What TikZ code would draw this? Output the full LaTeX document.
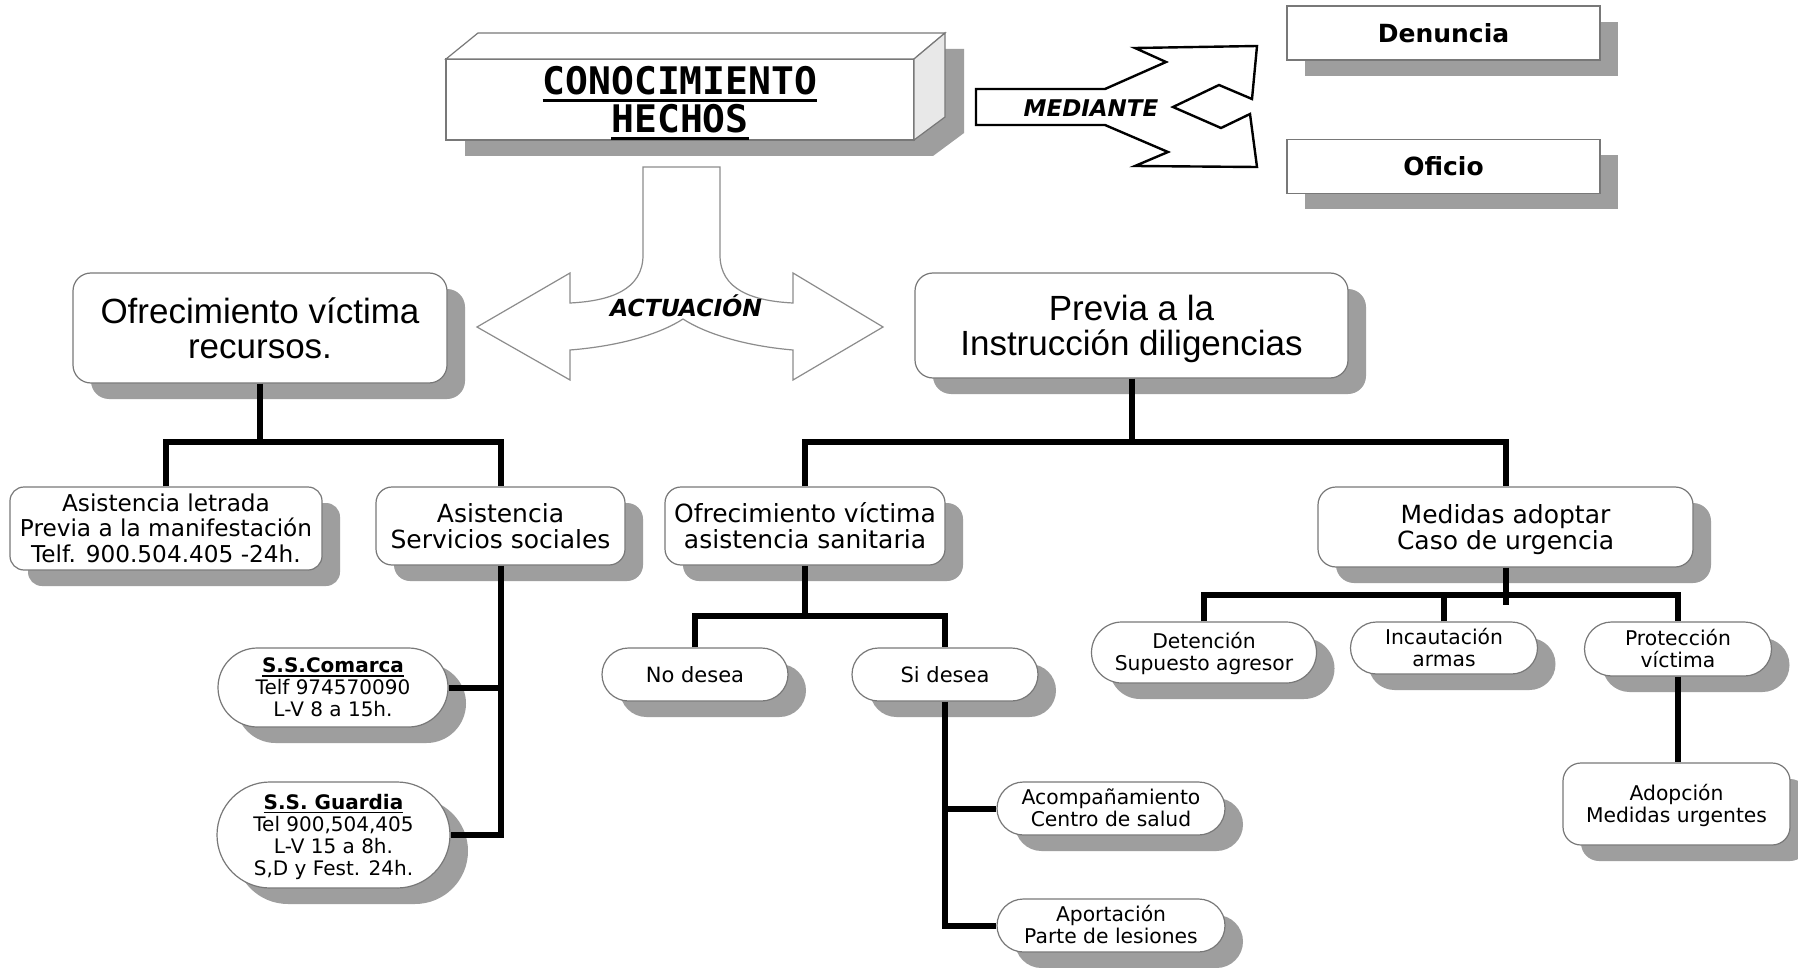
\documentclass[tikz,border=0pt]{standalone}
\usepackage{fontspec}
\usetikzlibrary{shapes.misc,shadows,calc}
\newfontfamily\dvs{DejaVu Sans}
\newfontfamily\dvm{DejaVu Sans Mono}
\newfontfamily\lbs{Liberation Sans}
\newlength\lnp
\newlength\lnd
\newcommand\setfnt[4]{#1\fontsize{#2}{#3}\selectfont\lineskiplimit=-1000pt\setlength\lnp{#3}\setlength\lnd{\dimexpr(#3-#4)/2\relax}}
\newcommand\Ln[1]{\rule[-\lnd]{0pt}{\lnp}\smash{#1}}
\newcommand\myul[1]{\setbox0\hbox{#1}\rlap{\rule[-0.2em]{\wd0}{0.08em}}\box0}
\definecolor{shd}{RGB}{158,158,158}
\definecolor{bord}{RGB}{120,120,120}
\definecolor{side}{RGB}{232,232,232}
\definecolor{arrgray}{RGB}{140,140,140}
\tikzset{
  shdw/.style={drop shadow={shadow xshift=9pt,shadow yshift=-8pt,fill=shd,opacity=1}},
  rbox/.style={shdw,rectangle,draw=bord,line width=0.6pt,fill=white,rounded corners=9pt,inner sep=0pt,align=center},
  pill/.style={shdw,rounded rectangle,draw=bord,line width=0.6pt,fill=white,inner sep=0pt,align=center},
  sqbox/.style={shdw,rectangle,draw=bord,line width=0.6pt,fill=white,inner sep=0pt,align=center},
  conn/.style={line width=3pt,line join=miter},
  bigf/.style={font=\setfnt{\lbs}{17.5pt}{17.5pt}{12.5pt}},
  midf/.style={font=\setfnt{\dvs}{12.5pt}{13pt}{9.1pt}},
  letf/.style={font=\setfnt{\dvs}{11.6pt}{12.75pt}{8.45pt}},
  smf/.style={font=\setfnt{\dvs}{10.15pt}{11pt}{7.4pt}},
  ssf/.style={font=\setfnt{\dvs}{10pt}{11pt}{7.3pt}},
  desf/.style={font=\setfnt{\dvs}{10.5pt}{11pt}{7.65pt}},
  boldf/.style={font=\setfnt{\dvs\bfseries}{12.5pt}{13pt}{9.1pt}},
}
\begin{document}
\begin{tikzpicture}[x=0.5pt,y=-0.5pt]
\useasboundingbox (0,0) rectangle (1798,968);
\fill[white] (0,0) rectangle (1798,968);

% 3D box
\fill[shd] (465,156) -- (465,75) -- (497,49) -- (964,49) -- (964,133) -- (933,156) -- cycle;
\draw[bord,line width=0.6pt,fill=white] (446,59) rectangle (914,140);
\draw[bord,line width=0.6pt,fill=white] (446,59) -- (478,33) -- (945,33) -- (914,59) -- cycle;
\draw[bord,line width=0.6pt,fill=side] (914,59) -- (945,33) -- (945,117) -- (914,140) -- cycle;
\node[font=\setfnt{\dvm\bfseries}{19pt}{19pt}{13.6pt},align=center,inner sep=0pt] (con) at (680,99.5)
  {\Ln{\myul{CONOCIMIENTO}}\\\Ln{\myul{HECHOS}}};

% MEDIANTE arrow
\draw[line width=1.2pt,fill=white,line join=miter] (976,89) -- (1105,89) -- (1166,62) -- (1135,48) -- (1257,46) -- (1252,99) -- (1219,85) -- (1173,107) -- (1221,128) -- (1250,114) -- (1257,167) -- (1135,166) -- (1168,152) -- (1105,125) -- (976,125) -- cycle;
\node[font=\setfnt{\dvs\bfseries\itshape}{11.5pt}{12pt}{8.4pt},inner sep=0pt] (med) at (1091,108) {\Ln{MEDIANTE}};

% ACTUACION arrow
\draw[arrgray,line width=0.6pt,fill=white] (643,167) -- (643,255) .. controls (643,290) and (610,301) .. (570,303)
  -- (570,273) -- (477,327) -- (570,380) -- (570,350)
  .. controls (620,346) and (660,334) .. (683,319) .. controls (706,334) and (746,346) .. (793,350)
  -- (793,380) -- (883,327) -- (793,273) -- (793,303)
  .. controls (753,301) and (720,290) .. (720,255) -- (720,167) -- cycle;
\node[font=\setfnt{\dvs\bfseries\itshape}{11.75pt}{12pt}{8.55pt},inner sep=0pt] (act) at (686,307.5) {\Ln{ACTUACIÓN}};

% Denuncia / Oficio
\node[sqbox,boldf,minimum width=156.5pt,minimum height=27pt] (den) at (1443.5,33) {\Ln{Denuncia}};
\node[sqbox,boldf,minimum width=156.5pt,minimum height=27pt] (ofi) at (1443.5,166.5) {\Ln{Oficio}};

% main boxes
\node[rbox,bigf,minimum width=187pt,minimum height=55pt] (ofre) at (260,328) {\Ln{Ofrecimiento víctima}\\\Ln{recursos.}};
\node[rbox,bigf,minimum width=216.5pt,minimum height=52.5pt] (prev) at (1131.5,325.5) {\Ln{Previa a la}\\\Ln{Instrucción diligencias}};

\node[rbox,letf,rounded corners=7pt,minimum width=156pt,minimum height=41.5pt] (asl) at (166,528.5)
  {\Ln{Asistencia letrada}\\\Ln{Previa a la manifestación}\\\Ln{Telf. 900.504.405 -24h.}};
\node[rbox,midf,rounded corners=8pt,minimum width=124.5pt,minimum height=39pt] (ass) at (500.5,526)
  {\Ln{Asistencia}\\\Ln{Servicios sociales}};
\node[rbox,midf,rounded corners=8pt,minimum width=140pt,minimum height=39pt] (san) at (805,526)
  {\Ln{Ofrecimiento víctima}\\\Ln{asistencia sanitaria}};
\node[rbox,midf,rounded corners=9pt,minimum width=187.5pt,minimum height=40pt] (mad) at (1505.5,527)
  {\Ln{Medidas adoptar}\\\Ln{Caso de urgencia}};

% pills
\node[pill,ssf,minimum width=115pt,minimum height=39.5pt] (com) at (333,687.5)
  {\Ln{\bfseries\myul{S.S.Comarca}}\\\Ln{Telf 974570090}\\\Ln{L-V 8 a 15h.}};
\node[pill,ssf,minimum width=116.5pt,minimum height=53pt] (gua) at (333.5,835)
  {\Ln{\bfseries\myul{S.S. Guardia}}\\\Ln{Tel 900,504,405}\\\Ln{L-V 15 a 8h.}\\\Ln{S,D y Fest. 24h.}};
\node[pill,desf,minimum width=93pt,minimum height=26.5pt] (nod) at (695,674.5) {\Ln{No desea}};
\node[pill,desf,minimum width=93pt,minimum height=26.5pt] (sid) at (945,674.5) {\Ln{Si desea}};
\node[pill,smf,minimum width=114pt,minimum height=26.5pt] (aco) at (1111,808.5) {\Ln{Acompañamiento}\\\Ln{Centro de salud}};
\node[pill,smf,minimum width=114pt,minimum height=26.5pt] (apo) at (1111,925.5) {\Ln{Aportación}\\\Ln{Parte de lesiones}};
\node[pill,smf,minimum width=112.5pt,minimum height=30.5pt] (det) at (1204,652.5) {\Ln{Detención}\\\Ln{Supuesto agresor}};
\node[pill,smf,minimum width=93.5pt,minimum height=26pt] (inc) at (1444,648) {\Ln{Incautación}\\\Ln{armas}};
\node[pill,smf,minimum width=93.5pt,minimum height=27pt] (pro) at (1678,649) {\Ln{Protección}\\\Ln{víctima}};
\node[rbox,smf,rounded corners=9pt,minimum width=113.5pt,minimum height=41pt] (adop) at (1676.5,804) {\Ln{Adopción}\\\Ln{Medidas urgentes}};

% connectors
\coordinate (yA) at (0,442);
\coordinate (yB) at (0,616);
\coordinate (yC) at (0,595);
\coordinate (yD) at (0,605);
\draw[conn] (ofre.south) -- (ofre.south |- yA);
\draw[conn] (asl.north) -- (asl.north |- yA) -- (ass.north |- yA) -- (ass.north);
\draw[conn] (prev.south) -- (prev.south |- yA);
\draw[conn] (san.north) -- (san.north |- yA) -- (mad.north |- yA) -- (mad.north);
\draw[conn] (san.south) -- (san.south |- yB);
\draw[conn] (nod.north) -- (nod.north |- yB) -- (sid.north |- yB) -- (sid.north);
\draw[conn] (sid.south) |- (apo.west);
\draw[conn] (sid.south |- aco.west) -- (aco.west);
\draw[conn] (ass.south) |- (gua.east);
\draw[conn] (ass.south |- com.east) -- (com.east);
\draw[conn] (mad.south) -- (mad.south |- yD);
\draw[conn] (det.north) -- (det.north |- yC) -- (pro.north |- yC) -- (pro.north);
\draw[conn] (inc.north) -- (inc.north |- yC);
\draw[conn] (pro.south) -- (pro.south |- adop.north);
\end{tikzpicture}
\end{document}
